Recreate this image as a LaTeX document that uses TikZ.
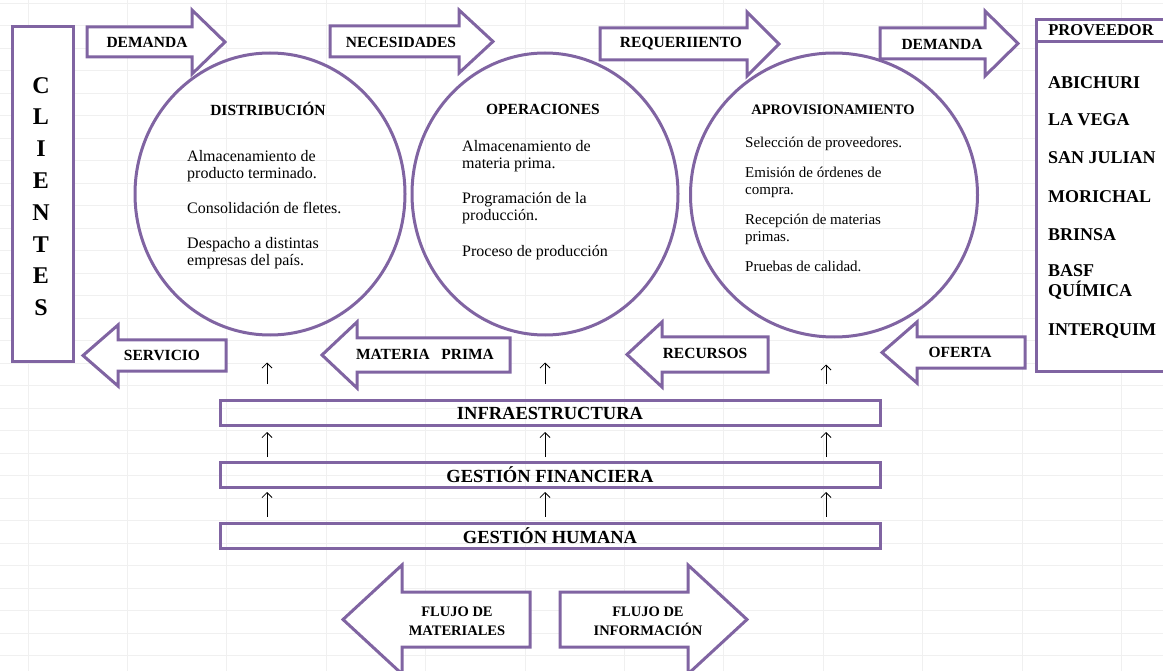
\documentclass[tikz,border=0pt]{standalone}
\usepackage{fontspec}
\setmainfont{Liberation Serif}
\usetikzlibrary{shapes.geometric,arrows.meta}
\usetikzlibrary{positioning}
\definecolor{morado}{HTML}{8064A2}

\begin{document}
\begin{tikzpicture}[x=1pt,y=-1pt,
	rejilla/.style={black!6,line width=0.8pt},
	flecha/.style={draw=morado,line width=3pt,fill=white},
	caja/.style={draw=morado,line width=3pt,fill=white,inner sep=0pt},
	circulo/.style={ellipse,draw=morado,line width=3pt,inner sep=0pt},
	barra/.style={rectangle,draw=morado,line width=3pt,minimum width=660pt,minimum height=25pt,inner sep=0pt,font=\bfseries\fontsize{18.5}{20}\selectfont},
	etiqueta/.style={font=\bfseries\fontsize{15.5}{20}\selectfont,align=center,inner sep=0pt},
	titulo/.style={font=\bfseries\fontsize{15.5}{17}\selectfont,inner sep=0pt},
	cuerpo/.style={font=\fontsize{16}{17}\selectfont,align=left,anchor=north west,inner sep=0pt},
	empresa/.style={font=\bfseries\fontsize{18}{20}\selectfont,align=left,anchor=west,inner sep=0pt},
	subir/.style={-{Straight Barb[length=5pt,width=10pt]},line width=0.8pt}]
	\useasboundingbox (0,0) rectangle (1163,671);
	\clip (0,0) rectangle (1163,671);
	\foreach \gx in {0,...,11}
		\draw[rejilla] ({28+99.4*\gx},0) -- ({28+99.4*\gx},671);
	\foreach \gy in {0,...,29}
		\draw[rejilla] (0,{3+22.5*\gy}) -- (1163,{3+22.5*\gy});

	% clientes y proveedor
	\node[caja,minimum width=61pt,minimum height=335pt] (clientes) at (42.5,194) {};
	\node[font=\bfseries\fontsize{24}{31.8}\selectfont,align=center,inner sep=0pt] (letras) at (41,196.5) {C\\L\\I\\E\\N\\T\\E\\S};
	\node[caja,anchor=north west,minimum width=140pt,minimum height=352pt] (prov) at (1035,18) {};
	\coordinate (cabecera) at (0,42);
	\draw[morado,line width=3pt] (prov.west |- cabecera) -- (prov.east |- cabecera);
	\node[font=\bfseries\fontsize{16.5}{18}\selectfont,inner sep=0pt] (provtit) at (1101,30) {PROVEEDOR};
	\foreach \nombre/\y [count=\i] in {ABICHURI/83,LA VEGA/120,SAN JULIAN/158,MORICHAL/197,BRINSA/235,{BASF\\QUÍMICA}/282,INTERQUIM/331}
		\node[empresa] (emp\i) at (1048,\y) {\nombre};

	% procesos
	\node[circulo,minimum width=270pt,minimum height=282pt] (dist) at (270,194) {};
	\node[circulo,minimum width=266pt,minimum height=282pt] (oper) at (545,194) {};
	\node[circulo,minimum width=287pt,minimum height=284pt] (aprov) at (834,195) {};
	\node[titulo] (tdist) at (268,109) {DISTRIBUCIÓN};
	\node[titulo] (toper) at (543,109) {OPERACIONES};
	\node[titulo,font=\bfseries\fontsize{14.5}{17}\selectfont] (taprov) at (833,110) {APROVISIONAMIENTO};
	\node[cuerpo] (d1) at (187,150) {Almacenamiento de\\producto terminado.};
	\node[cuerpo] (d2) at (187,202) {Consolidación de fletes.};
	\node[cuerpo] (d3) at (187,237) {Despacho a distintas\\empresas del país.};
	\node[cuerpo] (o1) at (462,140) {Almacenamiento de\\materia prima.};
	\node[cuerpo] (o2) at (462,192) {Programación de la\\producción.};
	\node[cuerpo] (o3) at (462,245) {Proceso de producción};
	\node[cuerpo,font=\fontsize{15}{17}\selectfont] (a1) at (745,137) {Selección de proveedores.};
	\node[cuerpo,font=\fontsize{15}{17}\selectfont] (a2) at (745,167) {Emisión de órdenes de\\compra.};
	\node[cuerpo,font=\fontsize{15}{17}\selectfont] (a3) at (745,214) {Recepción de materias\\primas.};
	\node[cuerpo,font=\fontsize{15}{17}\selectfont] (a4) at (745,261) {Pruebas de calidad.};

	% flechas de flujo
	\draw[flecha] (87,27) -- (192,27) -- (192,10) -- (225,42) -- (192,74) -- (192,57) -- (87,57) -- cycle;
	\draw[flecha] (330,26) -- (459,26) -- (459,10) -- (493,41.5) -- (459,73) -- (459,57) -- (330,57) -- cycle;
	\draw[flecha] (600,28) -- (747,28) -- (747,12) -- (779,44) -- (747,76) -- (747,60) -- (600,60) -- cycle;
	\draw[flecha] (880,28) -- (985,28) -- (985,11) -- (1018,43.5) -- (985,76) -- (985,59) -- (880,59) -- cycle;
	\draw[flecha] (226,340) -- (118,340) -- (118,325) -- (83,355.5) -- (118,386) -- (118,371) -- (226,371) -- cycle;
	\draw[flecha] (510,338) -- (357,338) -- (357,322) -- (322,355) -- (357,388) -- (357,372) -- (510,372) -- cycle;
	\draw[flecha] (768,337) -- (662,337) -- (662,322) -- (627,354.5) -- (662,387) -- (662,372) -- (768,372) -- cycle;
	\draw[flecha] (1025,337) -- (917,337) -- (917,322) -- (882,352.5) -- (917,383) -- (917,368) -- (1025,368) -- cycle;
	\draw[flecha] (530,592) -- (402,592) -- (402,565) -- (343,619.5) -- (402,674) -- (402,647) -- (530,647) -- cycle;
	\draw[flecha] (560,592) -- (688,592) -- (688,565) -- (747,619.5) -- (688,674) -- (688,647) -- (560,647) -- cycle;
	\node[etiqueta] (demanda) at (147,42) {DEMANDA};
	\node[etiqueta] (necesidades) at (401,42) {NECESIDADES};
	\node[etiqueta] (requerimiento) at (681,44) {REQUERIIENTO};
	\node[etiqueta] (demandaprov) at (942,44) {DEMANDA};
	\node[etiqueta] (servicio) at (162,355) {SERVICIO};
	\node[etiqueta] (materia) at (425,354) {MATERIA\ \ \ PRIMA};
	\node[etiqueta] (recursos) at (705,353) {RECURSOS};
	\node[etiqueta] (oferta) at (960,352) {OFERTA};
	\node[etiqueta,font=\bfseries\fontsize{14.5}{19}\selectfont] (materiales) at (457,621) {FLUJO DE\\MATERIALES};
	\node[etiqueta,font=\bfseries\fontsize{14.5}{19}\selectfont] (informacion) at (648,621) {FLUJO DE\\INFORMACIÓN};

	% apoyo
	\node[barra] (infra) at (550,413) {INFRAESTRUCTURA};
	\node[barra] (fin) at (550,475) {GESTIÓN FINANCIERA};
	\node[barra] (hum) at (550,535.5) {GESTIÓN HUMANA};
	\foreach \n/\x/\proc in {1/267/dist,2/545/oper,3/826/aprov}{
		\coordinate (eje\n) at (\x,0);
		\draw[subir,shorten <=15pt,shorten >=26pt] (infra.north -| eje\n) -- (\proc.south -| eje\n);
		\draw[subir,shorten <=4pt,shorten >=5pt] (fin.north -| eje\n) -- (infra.south -| eje\n);
		\draw[subir,shorten <=5pt,shorten >=3pt] (hum.north -| eje\n) -- (fin.south -| eje\n);
	}
\end{tikzpicture}
\end{document}
